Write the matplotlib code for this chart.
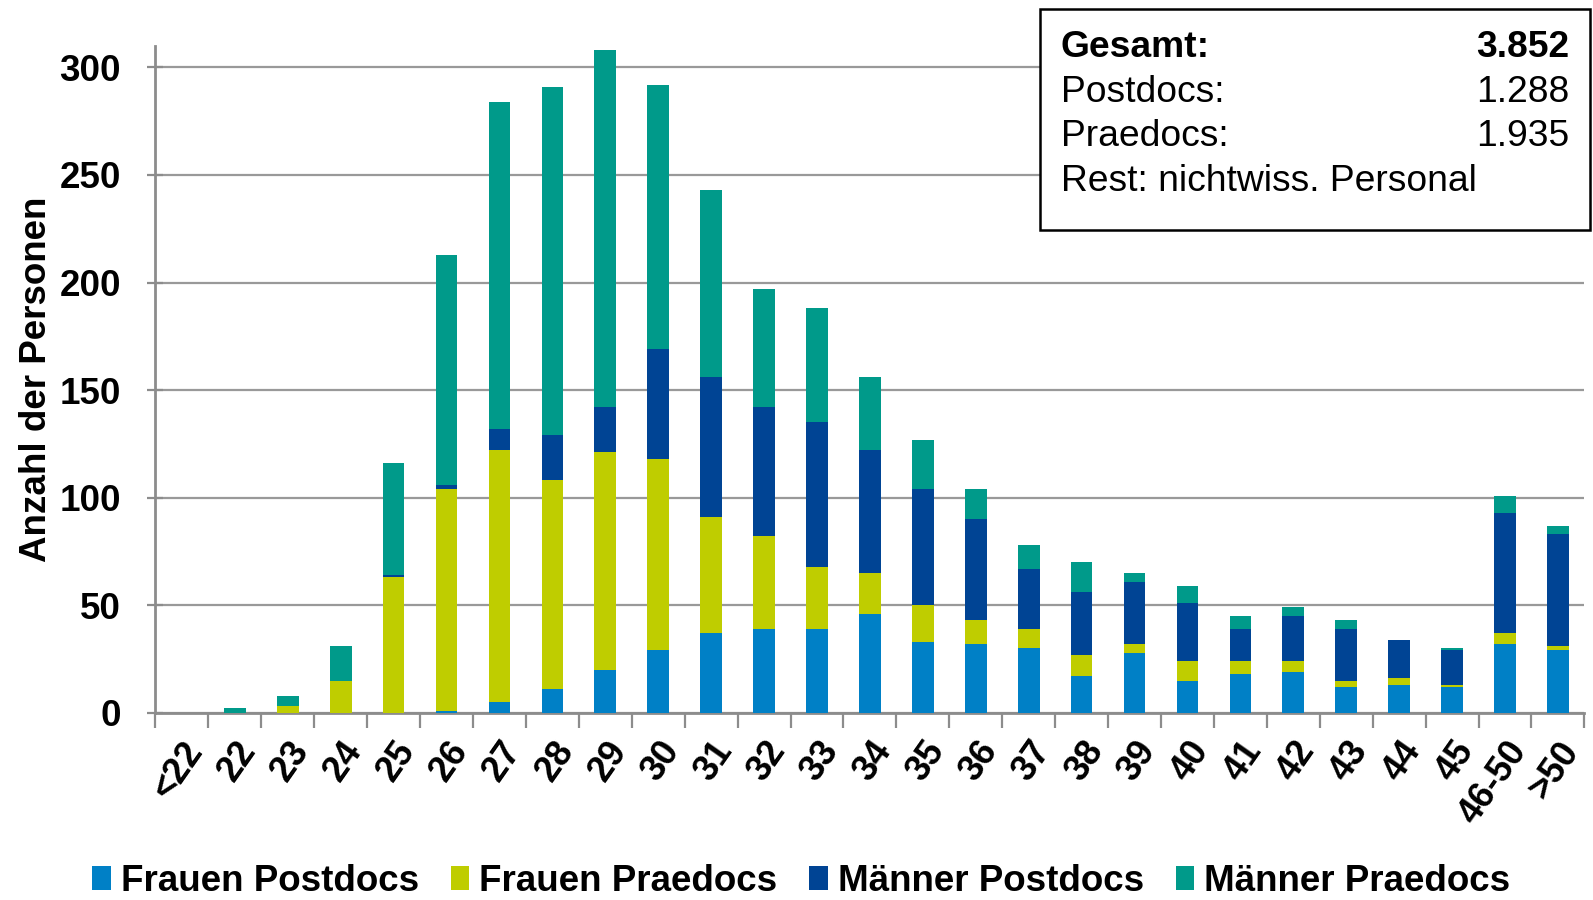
import matplotlib
matplotlib.use('Agg')
import matplotlib.pyplot as plt
import numpy as np
from matplotlib.patches import Rectangle

plt.rcParams['font.family'] = ['Liberation Sans', 'DejaVu Sans']

ages = ['<22', '22', '23', '24', '25', '26', '27', '28', '29', '30', '31', '32', '33',
        '34', '35', '36', '37', '38', '39', '40', '41', '42', '43', '44', '45', '46-50', '>50']

frauen_postdocs = [0, 0, 0, 0, 0, 1, 5, 11, 20, 29, 37, 39, 39, 46, 33, 32, 30, 17, 28,
                   15, 18, 19, 12, 13, 12, 32, 29]
frauen_praedocs = [0, 0, 3, 15, 63, 103, 117, 97, 101, 89, 54, 43, 29, 19, 17, 11, 9, 10, 4,
                   9, 6, 5, 3, 3, 1, 5, 2]
maenner_postdocs = [0, 0, 0, 0, 1, 2, 10, 21, 21, 51, 65, 60, 67, 57, 54, 47, 28, 29, 29,
                    27, 15, 21, 24, 18, 16, 56, 52]
maenner_praedocs = [0, 2, 5, 16, 52, 107, 152, 162, 166, 123, 87, 55, 53, 34, 23, 14, 11, 14, 4,
                    8, 6, 4, 4, 0, 1, 8, 4]

series = {
    'Frauen Postdocs': (frauen_postdocs, '#0080C6'),
    'Frauen Praedocs': (frauen_praedocs, '#BFCD00'),
    'Männer Postdocs': (maenner_postdocs, '#004494'),
    'Männer Praedocs': (maenner_praedocs, '#009A8A'),
}

fig = plt.figure(figsize=(15.93, 9), dpi=100)
ax = fig.add_axes([0.0976, 0.208, 0.897, 0.741])

x = np.arange(len(ages))
bottom = np.zeros(len(ages))
for name, (vals, col) in series.items():
    ax.bar(x, vals, 0.41, bottom=bottom, color=col, label=name, zorder=3)
    bottom += np.array(vals)

grey = '#8c8c8c'
ax.set_xlim(-0.5, len(ages) - 0.5)
ax.set_ylim(0, 310)
ax.set_yticks(range(0, 301, 50))
ax.yaxis.grid(True, color='#999999', linewidth=1.6, zorder=0)
for s in ['top', 'right']:
    ax.spines[s].set_visible(False)
for s in ['left', 'bottom']:
    ax.spines[s].set_color(grey)
    ax.spines[s].set_linewidth(2)

ax.set_xticks(x)
ax.set_xticks(np.arange(-0.5, len(ages)), minor=True)
ax.tick_params(axis='x', which='major', length=0, pad=16)
ax.tick_params(axis='x', which='minor', length=11, width=1.6, color=grey)
ax.tick_params(axis='y', direction='inout', length=12, width=1.6, color=grey,
               labelsize=26.5, pad=19)
ax.set_xticklabels(ages, rotation=55, ha='right', rotation_mode='anchor',
                   fontsize=26, fontweight='bold')
for lab in ax.get_yticklabels():
    lab.set_fontweight('bold')

ax.set_ylabel('Anzahl der Personen', fontsize=26.5, fontweight='bold')
ax.yaxis.set_label_coords(-0.0713, 0.5)

fig.legend(loc='center', bbox_to_anchor=(0.503, 0.0205), ncol=4, frameon=False,
           prop={'weight': 'bold', 'size': 26.5},
           handlelength=0.5, handleheight=0.65, handletextpad=0.27, columnspacing=0.87)

# summary box
fig.patches.append(Rectangle((0.653, 0.744), 0.345, 0.246, transform=fig.transFigure,
                             facecolor='white', edgecolor='black', linewidth=1.8, zorder=5))
rows = [('Gesamt:', '3.852', 'bold'),
        ('Postdocs:', '1.288', 'normal'),
        ('Praedocs:', '1.935', 'normal'),
        ('Rest: nichtwiss. Personal', '', 'normal')]
ys = [0.9476, 0.8968, 0.8483, 0.7986]
for (left, right, w), yy in zip(rows, ys):
    fig.text(0.666, yy, left, fontsize=26.8, fontweight=w, va='center', ha='left', zorder=6)
    if right:
        fig.text(0.985, yy, right, fontsize=26.8, fontweight=w, va='center', ha='right', zorder=6)

fig.savefig('out.png', dpi=100)
